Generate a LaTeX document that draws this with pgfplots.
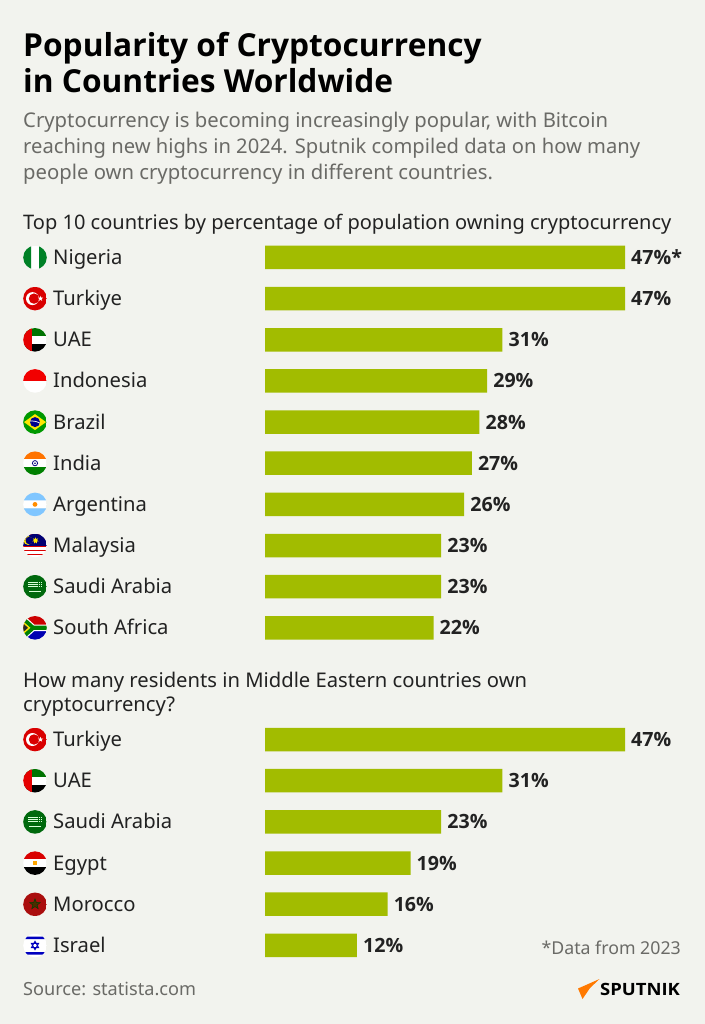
\documentclass[border=0pt]{standalone}
\usepackage{fontspec}
\setmainfont{Noto Sans}
\newfontfamily\heavy{Open Sans}
\usepackage{pgfplots}
\pgfplotsset{compat=1.18}
\usetikzlibrary{shapes.geometric}
\definecolor{bg}{HTML}{F2F3EE}
\definecolor{bar}{HTML}{A2BC00}
\definecolor{ink}{HTML}{222222}
\definecolor{soft}{HTML}{6A6A66}
\newcommand{\sz}[1]{\fontsize{#1}{#1}\selectfont}
\pgfplotsset{bars/.style={
    xbar, scale only axis, width=360bp, xmin=0, xmax=47,
    y dir=reverse, anchor=north west, clip=false,
    xtick=\empty, axis line style={draw=none}, tick style={draw=none},
    major tick length=0pt, bar width=23.5bp,
    yticklabel style={anchor=base west, inner sep=0pt, xshift=-212bp, yshift=-7bp, font=\sz{20.3}, text=ink},
    point meta=explicit symbolic, nodes near coords,
    nodes near coords style={anchor=base west, inner sep=0pt, xshift=6bp, yshift=-7bp, font=\heavy\bfseries\sz{19.7}, text=ink},
}}
% flags, drawn round (0,0) with radius 12
\newcommand{\putflag}[2]{\begin{scope}[shift={(35,#2)}]\clip (0,0) circle (11.8);#1\end{scope}}
\newcommand{\fNG}{\fill[white] (-12,-12) rectangle (12,12);
  \fill[green!50!black!70!teal] (-12,-12) rectangle (-4,12) (4,-12) rectangle (12,12);}
\newcommand{\fTR}{\fill[red!85!black] (-12,-12) rectangle (12,12);
  \fill[white] (-2.5,0) circle (6.5); \fill[red!85!black] (-1,0) circle (5.2);
  \node[star,star points=5,star point ratio=2.4,fill=white,inner sep=0pt,minimum size=5.5bp] at (5.5,0) {};}
\newcommand{\fAE}{\fill[white] (-12,-4) rectangle (12,4);
  \fill[green!45!black] (-12,-12) rectangle (12,-4);
  \fill[black] (-12,4) rectangle (12,12);
  \fill[red!90!black] (-12,-12) rectangle (-3.5,12);}
\newcommand{\fID}{\fill[white] (-12,0) rectangle (12,12); \fill[red!95!black] (-12,-12) rectangle (12,0);}
\newcommand{\fBR}{\fill[green!60!black] (-12,-12) rectangle (12,12);
  \fill[yellow!90!orange] (-11,0) -- (0,-8) -- (11,0) -- (0,8) -- cycle;
  \fill[blue!55!black] (0,0) circle (5);
  \draw[white,line width=.7bp] (-5,-1) to[bend left=15] (5,1);}
\newcommand{\fIN}{\fill[white] (-12,-4) rectangle (12,4);
  \fill[orange!90!red] (-12,-12) rectangle (12,-4);
  \fill[green!50!black] (-12,4) rectangle (12,12);
  \draw[blue!50!black,line width=.8bp] (0,0) circle (2.6); \fill[blue!50!black] (0,0) circle (.8);}
\newcommand{\fAR}{\fill[white] (-12,-4) rectangle (12,4);
  \fill[blue!45!cyan!50] (-12,-12) rectangle (12,-4) (-12,4) rectangle (12,12);
  \fill[orange!90!yellow] (0,0) circle (2.4);}
\newcommand{\fMY}{\fill[white] (-12,-12) rectangle (12,12);
  \foreach \r in {-12,-8,...,10} {\fill[red!85!black] (-12,\r) rectangle (12,\r+1.9);}
  \fill[blue!45!black] (-12,-12) rectangle (12,0);
  \fill[yellow!90!orange] (-7,-5) circle (4.4); \fill[blue!45!black] (-5.7,-5) circle (3.8);
  \node[star,star points=7,star point ratio=2,fill=yellow!90!orange,inner sep=0pt,minimum size=6.5bp] at (0.5,-5) {};}
\newcommand{\fSA}{\fill[green!40!black!90!teal] (-12,-12) rectangle (12,12);
  \foreach \r in {-4.5,-2.5,-0.5} {\draw[white!85!green,line width=.8bp,dash pattern=on 1.5bp off .6bp] (-7,\r) -- (7,\r);}
  \draw[white!85!green,line width=.6bp] (-6,4.5) -- (6,4.5);}
\newcommand{\fZA}{\fill[red!80!black] (-12,-12) rectangle (12,0);
  \fill[blue!70!black] (-12,0) rectangle (12,12);
  \draw[white,line width=6.5bp] (-12,-9) -- (-2,0) -- (-12,9) (-2,0) -- (12,0);
  \draw[green!50!black,line width=4.2bp] (-12,-9) -- (-2,0) -- (-12,9) (-2,0) -- (12,0);
  \fill[yellow!85!orange] (-12,-6.5) -- (-4.6,0) -- (-12,6.5) -- cycle;
  \fill[black!85] (-12,-4.5) -- (-7,0) -- (-12,4.5) -- cycle;}
\newcommand{\fEG}{\fill[white] (-12,-4) rectangle (12,4);
  \fill[red!85!black] (-12,-12) rectangle (12,-4);
  \fill[black] (-12,4) rectangle (12,12);
  \fill[orange!70!yellow] (-2,-2.2) rectangle (2,2.2);}
\newcommand{\fMA}{\fill[red!65!black!95!white] (-12,-12) rectangle (12,12);
  \node[star,star points=5,star point ratio=2.4,draw=green!25!black,fill=green!25!black!70!red,line width=.5bp,inner sep=0pt,minimum size=11bp] at (0,0) {};}
\newcommand{\fIL}{\fill[white] (-12,-12) rectangle (12,12);
  \fill[blue!75!black] (-10,-9) rectangle (10,-6.5) (-10,6.5) rectangle (10,9);
  \draw[blue!75!black,line width=.9bp] (0,-4.2) -- (3.6,2.1) -- (-3.6,2.1) -- cycle (0,4.2) -- (3.6,-2.1) -- (-3.6,-2.1) -- cycle;}
\begin{document}
\begin{tikzpicture}[x=1bp,y=-1bp]
\fill[bg] (0,0) rectangle (705,1024);
\path[use as bounding box] (0,0) rectangle (705,1024);

\node[anchor=base west,inner sep=0pt,text=black,font=\heavy\bfseries\sz{31.8}] at (23,56) {Popularity of Cryptocurrency};
\node[anchor=base west,inner sep=0pt,text=black,font=\heavy\bfseries\sz{31.8}] at (23,92) {in Countries Worldwide};
\node[anchor=base west,inner sep=0pt,text=soft,font=\sz{20.35}] at (23,127) {Cryptocurrency is becoming increasingly popular, with Bitcoin};
\node[anchor=base west,inner sep=0pt,text=soft,font=\sz{20.25}] at (23,153) {reaching new highs in 2024. Sputnik compiled data on how many};
\node[anchor=base west,inner sep=0pt,text=soft,font=\sz{20.35}] at (23,179) {people own cryptocurrency in different countries.};
\node[anchor=base west,inner sep=0pt,text=ink,font=\sz{20.1}] at (23,229) {Top 10 countries by percentage of population owning cryptocurrency};
\node[anchor=base west,inner sep=0pt,text=ink,font=\sz{20.3}] at (23,687) {How many residents in Middle Eastern countries own};
\node[anchor=base west,inner sep=0pt,text=ink,font=\sz{20.3}] at (23,711) {cryptocurrency?};

\begin{axis}[bars, at={(265bp,-236.9bp)}, height=411.5bp, ymin=-0.5, ymax=9.5,
    ytick={0,...,9},
    yticklabels={Nigeria,Turkiye,UAE,Indonesia,Brazil,India,Argentina,Malaysia,Saudi Arabia,South Africa}]
\addplot[fill=bar,draw=none] coordinates {
(47,0) [47\%*]
(47,1) [47\%]
(31,2) [31\%]
(29,3) [29\%]
(28,4) [28\%]
(27,5) [27\%]
(26,6) [26\%]
(23,7) [23\%]
(23,8) [23\%]
(22,9) [22\%]
};
\end{axis}

\begin{axis}[bars, at={(265bp,-718.9bp)}, height=247bp, ymin=-0.5, ymax=5.5,
    ytick={0,...,5},
    yticklabels={Turkiye,UAE,Saudi Arabia,Egypt,Morocco,Israel}]
\addplot[fill=bar,draw=none] coordinates {
(47,0) [47\%]
(31,1) [31\%]
(23,2) [23\%]
(19,3) [19\%]
(16,4) [16\%]
(12,5) [12\%]
};
\end{axis}

\putflag{\fNG}{257.5}
\putflag{\fTR}{298.6}
\putflag{\fAE}{339.8}
\putflag{\fID}{380.9}
\putflag{\fBR}{422.1}
\putflag{\fIN}{463.2}
\putflag{\fAR}{504.4}
\putflag{\fMY}{545.5}
\putflag{\fSA}{586.7}
\putflag{\fZA}{627.8}
\putflag{\fTR}{739.5}
\putflag{\fAE}{780.7}
\putflag{\fSA}{821.9}
\putflag{\fEG}{863.1}
\putflag{\fMA}{904.3}
\putflag{\fIL}{945.5}

\node[anchor=base east,inner sep=0pt,text=soft,font=\sz{17.8}] at (681,954) {*Data from 2023};
\node[anchor=base west,inner sep=0pt,text=soft,font=\sz{18.2}] at (23,995) {Source: statista.com};
\fill[orange!95!red] (599.5,979) -- (578,988.5) -- (582.5,999) -- (590,988) -- cycle;
\node[anchor=base west,inner sep=0pt,text=black,font=\heavy\bfseries\sz{17}] at (600,995) {\scalebox{1.09}[1]{SPUTNIK}};
\end{tikzpicture}
\end{document}
